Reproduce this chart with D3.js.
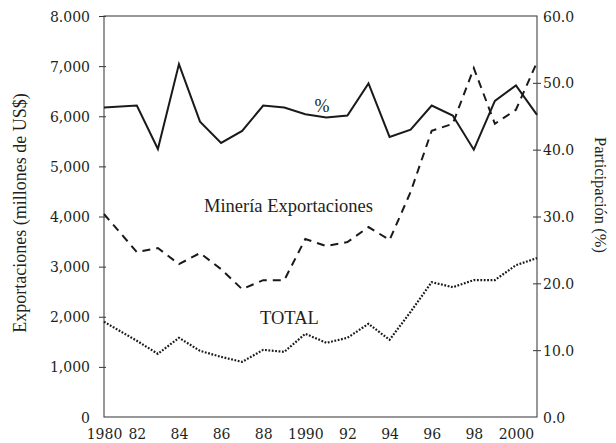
<!DOCTYPE html>
<html>
<head>
<meta charset="utf-8">
<script src="https://cdn.jsdelivr.net/npm/d3@7"></script>
<style>
  body { margin: 0; background: #fff; }
  .tick text { font-family: "DejaVu Serif", serif; font-size: 14px; fill: #231f20; }
  .label { font-family: "Liberation Serif", serif; fill: #231f20; }
</style>
</head>
<body>
<div id="chart"></div>
<script>
// Years plotted (1981 is not in the series)
const years = [1980, 1982, 1983, 1984, 1985, 1986, 1987, 1988, 1989, 1990, 1991,
               1992, 1993, 1994, 1995, 1996, 1997, 1998, 1999, 2000, 2001];

// Participación (%), right axis
const participacion = [46.3, 46.6, 40.1, 52.8, 44.2, 41.0, 42.8, 46.6, 46.3, 45.3, 44.8,
                       45.1, 49.9, 41.9, 43.0, 46.6, 45.1, 40.0, 47.3, 49.6, 45.2];

// Exportaciones (millones de US$), left axis
const mineria = [4050, 3290, 3370, 3050, 3270, 2950, 2550, 2730, 2730, 3550, 3410,
                 3490, 3790, 3530, 4490, 5710, 5850, 6960, 5850, 6130, 7080];
const total = [1900, 1520, 1260, 1580, 1320, 1200, 1100, 1340, 1300, 1660, 1480,
               1580, 1860, 1540, 2100, 2690, 2590, 2730, 2730, 3030, 3170];

// Tick labels
const leftTicks = [0, 1000, 2000, 3000, 4000, 5000, 6000, 7000, 8000];
const leftTickLabels = ["0", "1,000", "2,000", "3,000", "4,000", "5,000", "6,000", "7,000", "8.000"];
const rightTicks = [0, 10, 20, 30, 40, 50, 60];
const xTicks = [1980, 1982, 1984, 1986, 1988, 1990, 1992, 1994, 1996, 1998, 2000];
const xTickLabels = ["1980", "82", "84", "86", "88", "1990", "92", "94", "96", "98", "2000"];

const width = 616;
const height = 443;
const margin = {top: 16, right: 79, bottom: 26, left: 104};
const w = width - margin.left - margin.right;
const h = height - margin.top - margin.bottom;

const svg = d3.select("#chart")
    .append("svg")
    .attr("width", width)
    .attr("height", height);

const g = svg.append("g")
    .attr("transform", `translate(${margin.left},${margin.top})`);

// x: the first step (1980 -> 1982) is drawn a little narrower than two years
const x = d3.scaleLinear()
    .domain([1980, 1982, 2001])
    .range([0, w * 32 / 422, w]);

const yLeft = d3.scaleLinear().domain([0, 8000]).range([h, 0]);
const yRight = d3.scaleLinear().domain([0, 60]).range([h, 0]);

// Left axis
const leftAxis = g.append("g")
    .call(d3.axisLeft(yLeft)
        .tickValues(leftTicks)
        .tickSize(5)
        .tickPadding(9)
        .tickFormat((d, i) => leftTickLabels[i]));
leftAxis.selectAll(".tick line").attr("x1", 2).attr("stroke", "#333")
    .filter(d => d === 0).remove();
leftAxis.selectAll(".tick text").attr("dy", "0.36em");

// Right axis
const rightAxis = g.append("g")
    .attr("transform", `translate(${w},0)`)
    .call(d3.axisRight(yRight)
        .tickValues(rightTicks)
        .tickSize(4)
        .tickPadding(2)
        .tickFormat(d3.format(".1f")));
rightAxis.selectAll(".tick line").attr("x1", -4).attr("stroke", "#333")
    .filter(d => d === 0 || d === 60).remove();
rightAxis.selectAll(".tick text").attr("dy", "0.36em");

// Bottom axis (labels only)
const bottomAxis = g.append("g")
    .attr("transform", `translate(0,${h})`)
    .call(d3.axisBottom(x)
        .tickValues(xTicks)
        .tickSize(0)
        .tickPadding(12)
        .tickFormat((d, i) => xTickLabels[i]));
bottomAxis.selectAll(".tick text").attr("dy", "0.71em");

[leftAxis, rightAxis, bottomAxis].forEach(a => a.select(".domain").remove());

// Frame
g.append("rect")
    .attr("width", w)
    .attr("height", h)
    .attr("fill", "none")
    .attr("stroke", "#444")
    .attr("stroke-width", 1.1);

const years_i = years.map((d, i) => i);

// Lines
const lineLeft = vals => d3.line()
    .x(i => x(years[i]))
    .y(i => yLeft(vals[i]))(years_i);

g.append("path")
    .attr("d", lineLeft(total))
    .attr("fill", "none")
    .attr("stroke", "#1a1a1a")
    .attr("stroke-width", 2.2)
    .attr("stroke-dasharray", "1.8,1.6");

g.append("path")
    .attr("d", lineLeft(mineria))
    .attr("fill", "none")
    .attr("stroke", "#1a1a1a")
    .attr("stroke-width", 2)
    .attr("stroke-dasharray", "8,6");

g.append("path")
    .attr("d", d3.line()
        .x(i => x(years[i]))
        .y(i => yRight(participacion[i]))(years_i))
    .attr("fill", "none")
    .attr("stroke", "#1a1a1a")
    .attr("stroke-width", 2)
    .attr("stroke-linejoin", "miter");

// Series labels
svg.append("text").attr("class", "label")
    .attr("x", 322).attr("y", 112)
    .attr("text-anchor", "middle")
    .style("font-size", "18px")
    .text("%");

svg.append("text").attr("class", "label")
    .attr("x", 204).attr("y", 212)
    .style("font-size", "18.5px")
    .text("Minería Exportaciones");

svg.append("text").attr("class", "label")
    .attr("x", 260).attr("y", 324)
    .style("font-size", "18.5px")
    .text("TOTAL");

// Axis titles
svg.append("text").attr("class", "label")
    .attr("transform", "translate(26,213) rotate(-90)")
    .attr("text-anchor", "middle")
    .style("font-size", "18px")
    .text("Exportaciones  (millones de US$)");

svg.append("text").attr("class", "label")
    .attr("transform", "translate(595,195) rotate(90)")
    .attr("text-anchor", "middle")
    .style("font-size", "16.5px")
    .text("Participación (%)");
</script>
</body>
</html>
